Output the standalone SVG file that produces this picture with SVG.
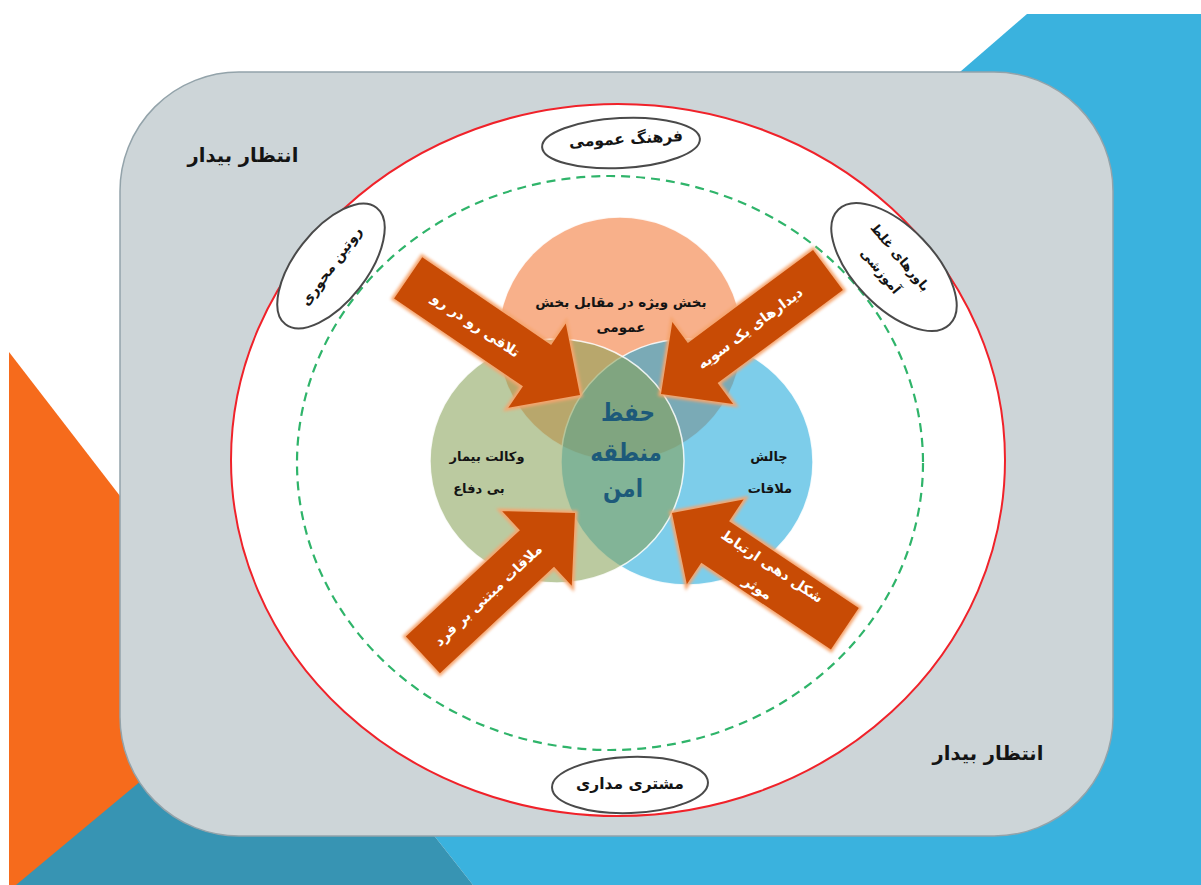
<svg xmlns="http://www.w3.org/2000/svg" xmlns:xlink="http://www.w3.org/1999/xlink" width="1201" height="885" viewBox="0 0 1201 885">
  <style>
    .fa { font-family: "DejaVu Sans", sans-serif; font-weight: bold; text-anchor: middle; dominant-baseline: central; }
    .dark { fill: #141414; }
    .white { fill: #ffffff; }
    .core { fill: #1d5a7a; font-size: 25px; }
    .tag { fill: #ffffff; stroke: #4a4a4a; stroke-width: 2; }
    .venn { stroke: #ffffff; stroke-width: 1.5; stroke-opacity: 0.85; fill-opacity: 0.56; }
    .arrow-glow { fill: none; stroke: #f6a56e; stroke-width: 5; filter: url(#soft); }
    .arrow-body { fill: #c84b05; }
  </style>
  <defs>
    <!-- block arrow pointing along +x, tip at the origin -->
    <path id="arrowShape" d="M0,0 L-52,-51 L-52,-25 L-208,-25 L-208,25 L-52,25 L-52,51 Z"/>
    <filter id="soft" x="-20%" y="-20%" width="140%" height="140%">
      <feGaussianBlur stdDeviation="1.4"/>
    </filter>
  </defs>

  <!-- page backdrop -->
  <g id="backdrop">
    <rect width="1201" height="885" fill="#ffffff"/>
    <polygon points="9,352 420,885 9,885" fill="#f66b1c"/>
    <polygon points="1027,14 1201,14 1201,885 473,885 292,655 812,200" fill="#3ab2de"/>
    <polygon points="16,885 292,655 473,885" fill="#3794b3"/>
    <rect x="120" y="72" width="993" height="764" rx="119" ry="119" fill="#cdd5d8" stroke="#93a3aa" stroke-width="1.5"/>
  </g>

  <!-- outer field -->
  <g id="field">
    <ellipse cx="618" cy="460" rx="387" ry="356" fill="#ffffff" stroke="#f0222a" stroke-width="2"/>
    <ellipse cx="610" cy="463" rx="313" ry="287" fill="none" stroke="#2fb46a" stroke-width="2.2" stroke-dasharray="9 6"/>
  </g>

  <g id="label-wait-top"><text class="fa dark" x="243" y="155" font-size="19.5">انتظار بیدار</text></g>
  <g id="label-wait-bottom"><text class="fa dark" x="988" y="753" font-size="19.5">انتظار بیدار</text></g>

  <!-- ring of factors -->
  <g id="node-culture">
    <ellipse class="tag" cx="621" cy="143" rx="79" ry="25" transform="rotate(-3 621 143)"/>
    <text class="fa dark" x="626" y="139" font-size="15.5" transform="rotate(-3 626 139)">فرهنگ عمومی</text>
  </g>
  <g id="node-routine">
    <ellipse class="tag" cx="331" cy="266" rx="74" ry="36" transform="rotate(-52 331 266)"/>
    <text class="fa dark" x="331" y="266" font-size="14" transform="rotate(-54 331 266)">روتین محوری</text>
  </g>
  <g id="node-beliefs">
    <ellipse class="tag" cx="894" cy="267" rx="80" ry="40" transform="rotate(46 894 267)"/>
    <g transform="translate(891 265) rotate(50)">
      <text class="fa dark" x="0" y="-12" font-size="13">باورهای  غلط</text>
      <text class="fa dark" x="-2" y="12" font-size="13">آموزشی</text>
    </g>
  </g>
  <g id="node-customer">
    <ellipse class="tag" cx="630" cy="785" rx="78" ry="28" transform="rotate(-2 630 785)"/>
    <text class="fa dark" x="630" y="784" font-size="15.5">مشتری مداری</text>
  </g>

  <!-- three overlapping themes -->
  <g id="venn">
    <circle id="node-special" class="venn" cx="620" cy="339" r="122" fill="#f2732e"/>
    <ellipse id="node-visit" class="venn" cx="687" cy="462" rx="126" ry="123" fill="#18a6d9"/>
    <ellipse id="node-advocacy" class="venn" cx="557" cy="461" rx="127" ry="122" fill="#85a056"/>
  </g>
  <g id="venn-labels">
    <text class="fa dark" x="621" y="302" font-size="13.5">بخش ویژه در مقابل بخش</text>
    <text class="fa dark" x="621" y="327" font-size="13.5">عمومی</text>
    <text class="fa dark" x="487" y="456" font-size="13">وکالت بیمار</text>
    <text class="fa dark" x="479" y="488" font-size="13">بی دفاع</text>
    <text class="fa dark" x="769" y="456" font-size="13">چالش</text>
    <text class="fa dark" x="770" y="488" font-size="13">ملاقات</text>
  </g>
  <g id="node-core">
    <g transform="translate(628 412) scale(0.86 1)"><text class="fa core" x="0" y="0">حفظ</text></g>
    <g transform="translate(626 452) scale(0.86 1)"><text class="fa core" x="0" y="0">منطقه</text></g>
    <g transform="translate(623 488) scale(0.86 1)"><text class="fa core" x="0" y="0">امن</text></g>
  </g>

  <!-- inward block arrows -->
  <g id="connectors">
    <g id="arrow-face" transform="translate(580 395) rotate(34.3)">
      <use xlink:href="#arrowShape" class="arrow-glow"/>
      <use xlink:href="#arrowShape" class="arrow-body"/>
    </g>
    <g id="arrow-oneway" transform="translate(661 394) rotate(143.4)">
      <use xlink:href="#arrowShape" class="arrow-glow"/>
      <use xlink:href="#arrowShape" class="arrow-body"/>
    </g>
    <g id="arrow-person" transform="translate(575 513) rotate(-43)">
      <use xlink:href="#arrowShape" class="arrow-glow"/>
      <use xlink:href="#arrowShape" class="arrow-body"/>
    </g>
    <g id="arrow-effective" transform="translate(672 513) rotate(-146.2)">
      <use xlink:href="#arrowShape" class="arrow-glow"/>
      <use xlink:href="#arrowShape" class="arrow-body"/>
    </g>
    <text class="fa white" font-size="14" transform="translate(476 325) rotate(34.3)">تلاقی رو در رو</text>
    <text class="fa white" font-size="14" transform="translate(750 328) rotate(-36.6)">دیدارهای یک سویه</text>
    <text class="fa white" font-size="14" transform="translate(488 595) rotate(-43)">ملاقات مبتنی بر فرد</text>
    <g transform="translate(765 577) rotate(33.8)">
      <text class="fa white" x="0" y="-13" font-size="14">شکل دهی ارتباط</text>
      <text class="fa white" x="0" y="13" font-size="14">موثر</text>
    </g>
  </g>
</svg>
